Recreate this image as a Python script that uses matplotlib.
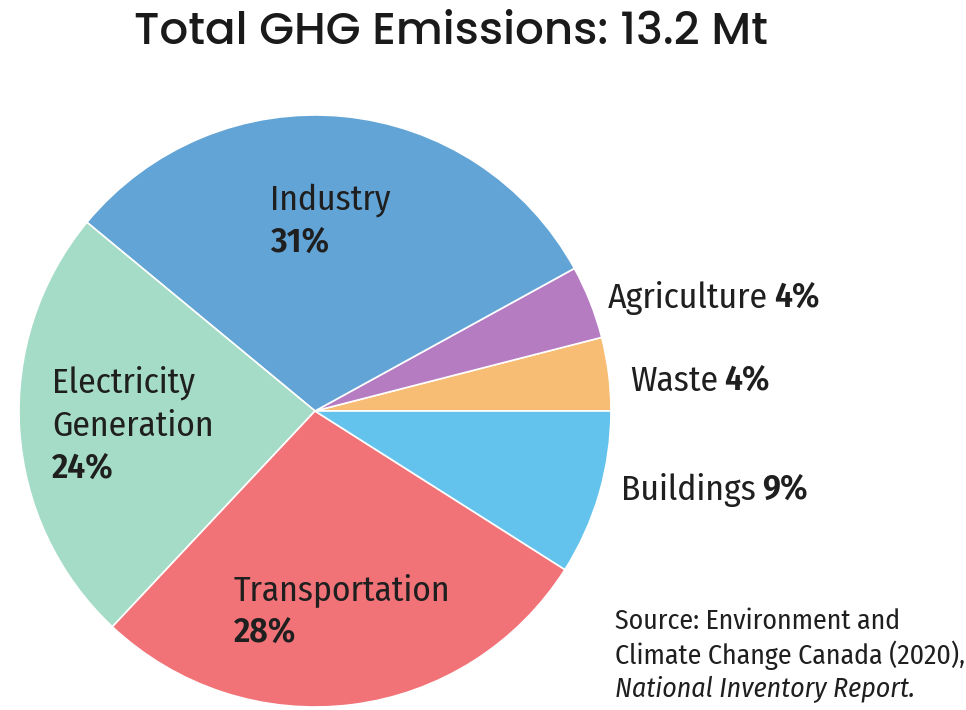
import matplotlib
matplotlib.use("Agg")
import matplotlib.pyplot as plt

# Canada GHG emissions by sector
sectors = ["Waste", "Agriculture", "Industry", "Electricity\nGeneration",
           "Transportation", "Buildings"]
shares = [4, 4, 31, 24, 28, 9]
colors = ["#f8bd74", "#b67cc2", "#62a4d6", "#a5dcc7", "#f17378", "#63c3ec"]

title = "Total GHG Emissions: 13.2 Mt"
source_lines = ["Source: Environment and", "Climate Change Canada (2020),"]
source_report = "National Inventory Report."

W, H = 966, 710
fig = plt.figure(figsize=(W / 100, H / 100), dpi=100)
fig.patch.set_facecolor("white")

# pie axes in pixel terms: centre (315, 411 from top), radius 296
cx, cy, r = 315, 411, 296
ax = fig.add_axes([(cx - r) / W, (H - cy - r) / H, 2 * r / W, 2 * r / H])
ax.pie(shares, colors=colors, startangle=0, counterclock=True, radius=1,
       wedgeprops=dict(edgecolor="white", linewidth=1.2))
ax.set_xlim(-1, 1)
ax.set_ylim(-1, 1)
ax.set_aspect("equal")
ax.axis("off")

narrow = ["Fira Sans Condensed", "Roboto", "DejaVu Sans"]
head = ["Poppins", "Open Sans", "DejaVu Sans"]
fs = 25.5
dark = "#1f1f1f"


def px(x, y):
    return x / W, 1 - y / H


fig.text(*px(451, 34), title, ha="center", va="center", fontsize=32.5,
         family=head, weight="medium", color="#1a1a1a")

# labels inside the wedges
inside = {
    "Industry": (270, 200),
    "Electricity\nGeneration": (52, 383),
    "Transportation": (234, 590),
}
for name, (x, y) in inside.items():
    i = sectors.index(name)
    lines = name.split("\n")
    for k, ln in enumerate(lines):
        fig.text(*px(x, y + 43 * k), ln, ha="left", va="center",
                 fontsize=fs, family=narrow, color=dark)
    fig.text(*px(x, y + 43 * len(lines)), f"{shares[i]}%", ha="left",
             va="center", fontsize=fs, family=narrow, weight="semibold", color=dark)

# labels to the right of the small wedges
outside = {"Agriculture": (608, 298), "Waste": (630, 381), "Buildings": (621, 490)}
fig.canvas.draw()
rend = fig.canvas.get_renderer()
for name, (x, y) in outside.items():
    i = sectors.index(name)
    t = fig.text(*px(x, y), name, ha="left", va="center", fontsize=fs,
                 family=narrow, color=dark)
    bb = t.get_window_extent(rend)
    fig.text((bb.x1 + 6) / W, 1 - y / H, f"{shares[i]}%", ha="left", va="center",
             fontsize=fs, family=narrow, weight="semibold", color=dark)

for k, ln in enumerate(source_lines):
    fig.text(*px(615, 621 + 34 * k), ln, ha="left", va="center", fontsize=20,
             family=narrow, color=dark)
fig.text(*px(615, 689), source_report, ha="left", va="center", fontsize=20,
         family=narrow, style="italic", color=dark)

fig.savefig("out.png", dpi=100, facecolor="white")
